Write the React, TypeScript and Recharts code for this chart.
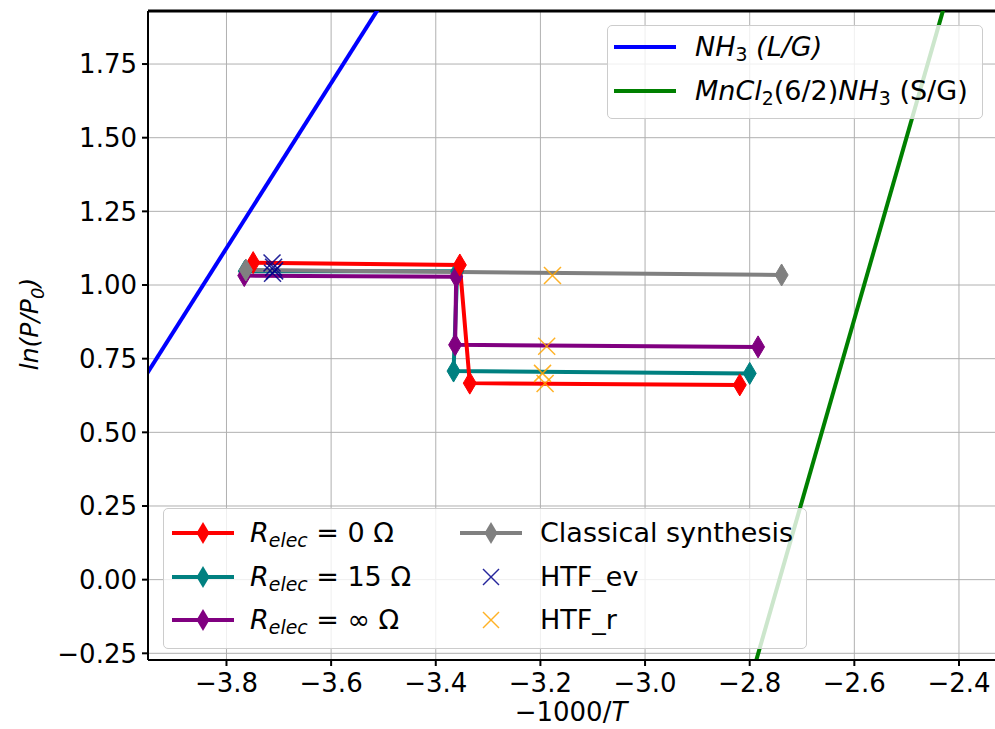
import React from "react";
import { ComposedChart, Line, Scatter, XAxis, YAxis, CartesianGrid, ReferenceLine } from "recharts";

// axis ticks
const X_TICKS = [-3.8, -3.6, -3.4, -3.2, -3.0, -2.8, -2.6, -2.4];
const Y_TICKS = [-0.25, 0, 0.25, 0.5, 0.75, 1.0, 1.25, 1.5, 1.75];

// equilibrium lines (ln P vs -1000/T)
const nh3Line = [
  { x: -4.0, y: 0.565 },
  { x: -3.4, y: 2.245 },
];
const mncl2Line = [
  { x: -2.85, y: -0.66 },
  { x: -2.4, y: 2.12 },
];

// cycles
const rElec0 = [
  { x: -3.749, y: 1.076 },
  { x: -3.354, y: 1.068 },
  { x: -3.335, y: 0.667 },
  { x: -2.819, y: 0.661 },
];
const rElec15 = [
  { x: -3.765, y: 1.047 },
  { x: -3.359, y: 1.047 },
  { x: -3.366, y: 0.708 },
  { x: -2.8, y: 0.7 },
];
const rElecInf = [
  { x: -3.766, y: 1.032 },
  { x: -3.361, y: 1.028 },
  { x: -3.363, y: 0.797 },
  { x: -2.784, y: 0.79 },
];
const classical = [
  { x: -3.763, y: 1.051 },
  { x: -2.739, y: 1.034 },
];
const htfEv = [
  { x: -3.713, y: 1.075 },
  { x: -3.71, y: 1.06 },
  { x: -3.708, y: 1.048 },
  { x: -3.712, y: 1.04 },
];
const htfR = [
  { x: -3.177, y: 1.032 },
  { x: -3.188, y: 0.792 },
  { x: -3.196, y: 0.7 },
  { x: -3.191, y: 0.666 },
];

const X_DOMAIN = [-3.95, -2.3216];
const Y_DOMAIN = [-0.2727, 1.93];

const FONT = "'DejaVu Sans', sans-serif";
const minus = (v: number, d: number) => (v < 0 ? "\u2212" : "") + Math.abs(v).toFixed(d);

const diamond = (color: string) => (p: any) => {
  if (p.cx == null || p.cy == null) return <g key={p.key} />;
  const w = 6.5, h = 11;
  return (
    <polygon
      key={p.key}
      points={`${p.cx},${p.cy - h} ${p.cx + w},${p.cy} ${p.cx},${p.cy + h} ${p.cx - w},${p.cy}`}
      fill={color}
      stroke={color}
      strokeWidth={1}
    />
  );
};

const cross = (color: string) => (p: any) => {
  const s = 8.5;
  return (
    <g stroke={color} strokeWidth={1.5} opacity={0.85}>
      <line x1={p.cx - s} y1={p.cy - s} x2={p.cx + s} y2={p.cy + s} />
      <line x1={p.cx - s} y1={p.cy + s} x2={p.cx + s} y2={p.cy - s} />
    </g>
  );
};

function Handle({ color, marker }: { color: string; marker: "d" | "x" | "none" }) {
  return (
    <svg width={62} height={30} style={{ display: "block" }}>
      {marker !== "x" && <line x1={0} y1={15} x2={62} y2={15} stroke={color} strokeWidth={4} />}
      {marker === "d" && <polygon points="31,4 37.5,15 31,26 24.5,15" fill={color} />}
      {marker === "x" && (
        <g stroke={color} strokeWidth={1.5} opacity={0.85}>
          <line x1={23} y1={7} x2={39} y2={23} />
          <line x1={23} y1={23} x2={39} y2={7} />
        </g>
      )}
    </svg>
  );
}

function Row({ x, y, tx, color, marker, children }: any) {
  return (
    <>
      <div style={{ position: "absolute", left: x, top: y - 15 }}>
        <Handle color={color} marker={marker} />
      </div>
      <div style={{ position: "absolute", left: tx, top: y - 17, height: 34, lineHeight: "34px", whiteSpace: "nowrap" }}>
        {children}
      </div>
    </>
  );
}

const R = ({ v }: { v: string }) => (
  <span>
    <i>R</i>
    <sub style={{ fontSize: "0.7em", fontStyle: "italic", verticalAlign: "-0.25em" }}>elec</sub>
    {` = ${v} \u03A9`}
  </span>
);
const sub = { fontSize: "0.7em", verticalAlign: "-0.25em" } as const;

export default function App() {
  return (
    <div style={{ position: "fixed", left: 0, top: 0, width: 995, height: 729, overflow: "hidden", background: "#fff", fontFamily: FONT }}>
      <ComposedChart width={1005} height={729} margin={{ top: 11, right: 5, bottom: 0, left: 0 }}>
        <CartesianGrid stroke="#b0b0b0" strokeWidth={1} horizontalValues={Y_TICKS} verticalValues={X_TICKS} />
        <XAxis
          type="number"
          dataKey="x"
          domain={X_DOMAIN}
          allowDataOverflow
          ticks={X_TICKS}
          tickFormatter={(v: number) => minus(v, 1)}
          height={69}
          tickSize={6}
          tickMargin={8}
          axisLine={{ stroke: "#000", strokeWidth: 2 }}
          tickLine={{ stroke: "#000", strokeWidth: 2 }}
          tick={{ fontSize: 26, fill: "#000", fontFamily: FONT }}
          label={{
            content: () => (
              <text x={571} y={721} textAnchor="middle" fontSize={26} fontFamily={FONT} fill="#000">
                {"\u22121000/"}
                <tspan fontStyle="italic">T</tspan>
              </text>
            ),
          }}
        />
        <YAxis
          type="number"
          dataKey="y"
          domain={Y_DOMAIN}
          allowDataOverflow
          ticks={Y_TICKS}
          tickFormatter={(v: number) => minus(v, 2)}
          width={148}
          tickSize={6}
          tickMargin={5}
          axisLine={{ stroke: "#000", strokeWidth: 2 }}
          tickLine={{ stroke: "#000", strokeWidth: 2 }}
          tick={{ fontSize: 26, fill: "#000", fontFamily: FONT }}
          label={{
            content: () => (
              <text
                x={0}
                y={0}
                transform="translate(38,324) rotate(-90)"
                textAnchor="middle"
                fontSize={25}
                fontFamily={FONT}
                fontStyle="italic"
                fill="#000"
              >
                ln(P/P
                <tspan fontSize={18} dy={6}>0</tspan>
                <tspan dy={-6}>)</tspan>
              </text>
            ),
          }}
        />
        <ReferenceLine y={1.93} stroke="#000" strokeWidth={3} />
        <Line data={nh3Line} dataKey="y" stroke="#0000ff" strokeWidth={4} dot={false} activeDot={false} isAnimationActive={false} />
        <Line data={mncl2Line} dataKey="y" stroke="#008000" strokeWidth={4} dot={false} activeDot={false} isAnimationActive={false} />
        <Line data={rElec15} dataKey="y" stroke="#008080" strokeWidth={4} dot={diamond("#008080")} activeDot={false} isAnimationActive={false} />
        <Line data={rElecInf} dataKey="y" stroke="#800080" strokeWidth={4} dot={diamond("#800080")} activeDot={false} isAnimationActive={false} />
        <Line data={rElec0} dataKey="y" stroke="#ff0000" strokeWidth={4} dot={diamond("#ff0000")} activeDot={false} isAnimationActive={false} />
        <Line data={classical} dataKey="y" stroke="#808080" strokeWidth={4} dot={diamond("#808080")} activeDot={false} isAnimationActive={false} />
        <Scatter data={htfEv} dataKey="y" shape={cross("#00008b")} isAnimationActive={false} />
        <Scatter data={htfR} dataKey="y" shape={cross("#ffa500")} isAnimationActive={false} />
      </ComposedChart>

      {/* lower legend */}
      <div
        style={{
          position: "absolute",
          left: 163,
          top: 508,
          width: 644,
          height: 141,
          background: "rgba(255,255,255,0.8)",
          border: "1px solid #cccccc",
          borderRadius: 5,
          boxSizing: "border-box",
        }}
      />
      <div style={{ position: "absolute", left: 0, top: 0, fontSize: 27, color: "#000" }}>
        <Row x={172} y={533} tx={250} color="#ff0000" marker="d"><R v="0" /></Row>
        <Row x={172} y={577} tx={250} color="#008080" marker="d"><R v="15" /></Row>
        <Row x={172} y={620} tx={250} color="#800080" marker="d"><R v={"\u221E"} /></Row>
        <Row x={460} y={533} tx={540} color="#808080" marker="d">Classical synthesis</Row>
        <Row x={460} y={577} tx={540} color="#00008b" marker="x">HTF_ev</Row>
        <Row x={460} y={620} tx={540} color="#ffa500" marker="x">HTF_r</Row>
      </div>

      {/* upper legend */}
      <div
        style={{
          position: "absolute",
          left: 607,
          top: 25,
          width: 376,
          height: 94,
          background: "rgba(255,255,255,0.8)",
          border: "1px solid #cccccc",
          borderRadius: 5,
          boxSizing: "border-box",
        }}
      />
      <div style={{ position: "absolute", left: 0, top: 0, fontSize: 27, color: "#000" }}>
        <Row x={614} y={47} tx={695} color="#0000ff" marker="none">
          <i>NH<sub style={{ ...sub, fontStyle: "normal" }}>3</sub> (L/G)</i>
        </Row>
        <Row x={614} y={91} tx={695} color="#008000" marker="none">
          <i>MnCl</i><sub style={sub}>2</sub>(6/2)<i>NH</i><sub style={sub}>3</sub> (S/G)
        </Row>
      </div>
    </div>
  );
}
